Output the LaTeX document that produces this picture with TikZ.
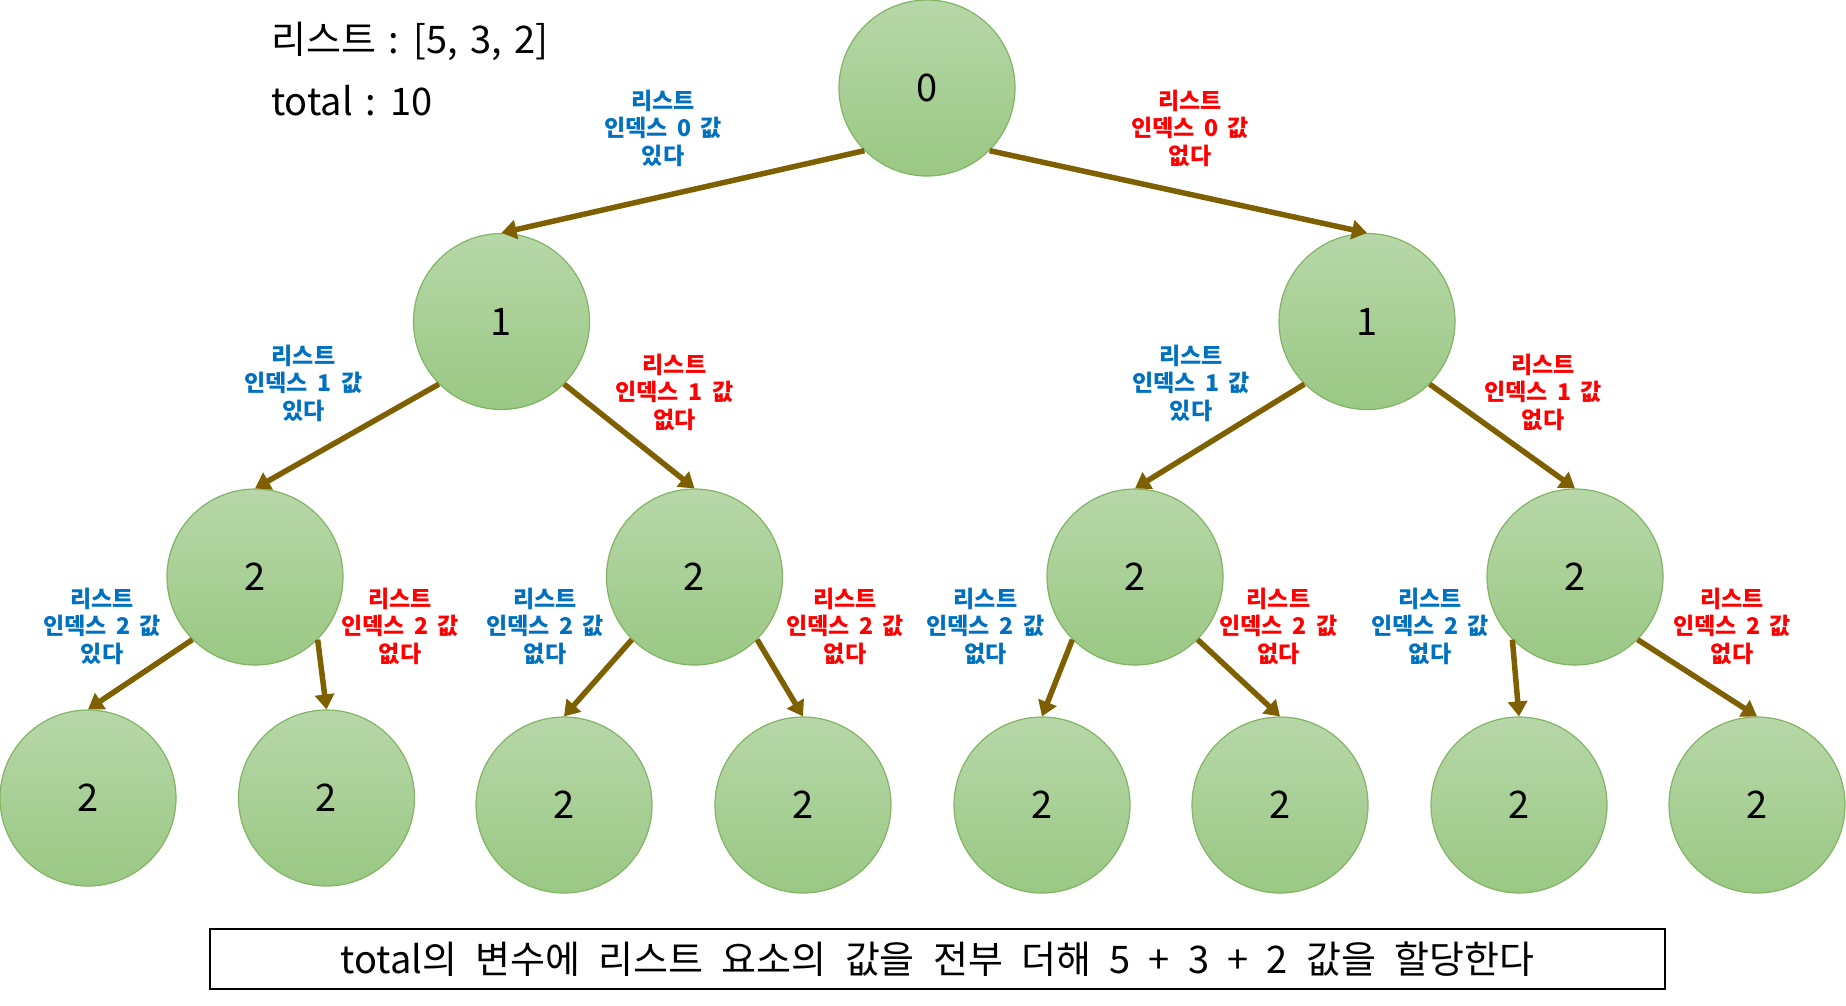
\documentclass[tikz,border=0pt]{standalone}
\usepackage{fontspec}
\setmainfont{Noto Sans CJK KR}
\usetikzlibrary{arrows.meta}
\definecolor{arrowc}{RGB}{127,96,0}
\definecolor{labblue}{RGB}{0,112,192}
\definecolor{labred}{RGB}{255,0,0}
\definecolor{ctop}{RGB}{183,215,168}
\definecolor{cbot}{RGB}{154,200,132}
\definecolor{cbord}{RGB}{130,180,100}
\protected\def\myLabFont{\fontsize{23}{27.5}\selectfont\bfseries\spaceskip=0.42em\relax}
\protected\def\myBoxFont{\fontsize{38}{40}\selectfont\spaceskip=0.48em\relax}
\protected\def\myTopFont{\fontsize{38}{40}\selectfont\spaceskip=0.32em\relax}
\tikzset{
  tnode/.style={circle, minimum size=176pt, inner sep=0pt, draw=cbord, line width=1.2pt,
    top color=ctop, bottom color=cbot, font=\fontsize{38}{40}\selectfont},
  conn/.style={draw=arrowc, line width=5.5pt, -{Triangle[length=15pt,width=19pt]}},
  lab/.style={align=center, font=\myLabFont, inner sep=0pt},
  blab/.style={lab, text=labblue},
  rlab/.style={lab, text=labred},
}
\begin{document}
\begin{tikzpicture}[x=1pt,y=-1pt]
\useasboundingbox (0,0) rectangle (1846,1005);
% title texts
\node[anchor=west, inner sep=0pt, font=\myTopFont] (t1) at (271,41) {리스트 : [5, 3, 2]};
\node[anchor=west, inner sep=0pt, font=\myTopFont] (t2) at (271,101) {total : 10};
% nodes
\node[tnode] (n0) at (927,88) {0};
\node[tnode] (a1) at (501.5,321.5) {1};
\node[tnode] (b1) at (1367,321.5) {1};
\node[tnode] (a2) at (255,577) {2};
\node[tnode] (b2) at (694.5,577) {2};
\node[tnode] (c2) at (1135,577) {2};
\node[tnode] (d2) at (1575,577) {2};
\node[tnode] (l1) at (88,798) {2};
\node[tnode] (l2) at (326.5,798) {2};
\node[tnode] (l3) at (564,805) {2};
\node[tnode] (l4) at (803,805) {2};
\node[tnode] (l5) at (1042,805) {2};
\node[tnode] (l6) at (1280,805) {2};
\node[tnode] (l7) at (1519,805) {2};
\node[tnode] (l8) at (1757,805) {2};
% connectors
\draw[conn] (n0.south west) -- (a1.north);
\draw[conn] (n0.south east) -- (b1.north);
\draw[conn] (a1.south west) -- (a2.north);
\draw[conn] (a1.south east) -- (b2.north);
\draw[conn] (b1.south west) -- (c2.north);
\draw[conn] (b1.south east) -- (d2.north);
\draw[conn] (a2.south west) -- (l1.north);
\draw[conn] (a2.south east) -- (l2.north);
\draw[conn] (b2.south west) -- (l3.north);
\draw[conn] (b2.south east) -- (l4.north);
\draw[conn] (c2.south west) -- (l5.north);
\draw[conn] (c2.south east) -- (l6.north);
\draw[conn] (d2.south west) -- (l7.north);
\draw[conn] (d2.south east) -- (l8.north);
% labels
\node[blab] (e1) at (663,128) {리스트\\인덱스 0 값\\있다};
\node[rlab] (e2) at (1190,128) {리스트\\인덱스 0 값\\없다};
\node[blab] (e3) at (303.5,383) {리스트\\인덱스 1 값\\있다};
\node[rlab] (e4) at (674.5,392) {리스트\\인덱스 1 값\\없다};
\node[blab] (e5) at (1191,383) {리스트\\인덱스 1 값\\있다};
\node[rlab] (e6) at (1543,392) {리스트\\인덱스 1 값\\없다};
\node[blab] (e7) at (102,626) {리스트\\인덱스 2 값\\있다};
\node[rlab] (e8) at (400,626) {리스트\\인덱스 2 값\\없다};
\node[blab] (e9) at (545,626) {리스트\\인덱스 2 값\\없다};
\node[rlab] (e10) at (845,626) {리스트\\인덱스 2 값\\없다};
\node[blab] (e11) at (985.5,626) {리스트\\인덱스 2 값\\없다};
\node[rlab] (e12) at (1278.5,626) {리스트\\인덱스 2 값\\없다};
\node[blab] (e13) at (1430,626) {리스트\\인덱스 2 값\\없다};
\node[rlab] (e14) at (1732,626) {리스트\\인덱스 2 값\\없다};
% bottom box
\node[draw=black, line width=2.5pt, minimum width=1455pt, minimum height=60pt, inner sep=0pt,
  font=\myBoxFont] (box) at (937.5,959) {total의 변수에 리스트 요소의 값을 전부 더해 5 + 3 + 2 값을 할당한다};
\end{tikzpicture}
\end{document}
